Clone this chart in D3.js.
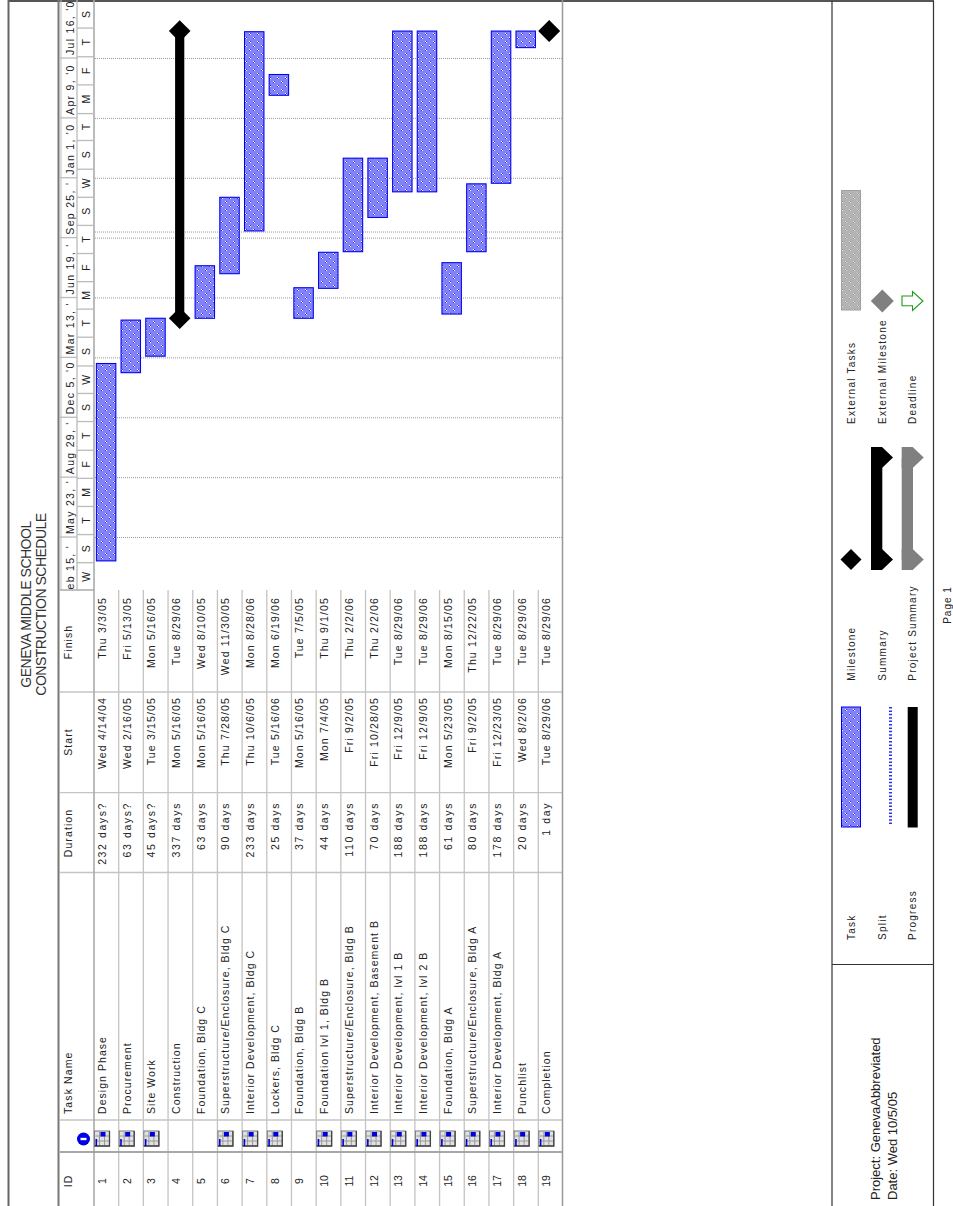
<!DOCTYPE html>
<html>
<head>
<meta charset="utf-8">
<script src="https://cdn.jsdelivr.net/npm/d3@7"></script>
<style>
  html, body { margin: 0; padding: 0; background: #fff; overflow: hidden; }
  svg { display: block; }
  text { font-family: "Liberation Sans", Arial, sans-serif; fill: #222; }
</style>
</head>
<body>
<script>
// task table
const ids = [1,2,3,4,5,6,7,8,9,10,11,12,13,14,15,16,17,18,19]
const names = ["Design Phase","Procurement","Site Work","Construction","Foundation, Bldg C",
  "Superstructure/Enclosure, Bldg C","Interior Development, Bldg C","Lockers, Bldg C","Foundation, Bldg B",
  "Foundation lvl 1, Bldg B","Superstructure/Enclosure, Bldg B","Interior Development, Basement B",
  "Interior Development, lvl 1 B","Interior Development, lvl 2 B","Foundation, Bldg A",
  "Superstructure/Enclosure, Bldg A","Interior Development, Bldg A","Punchlist","Completion"]
const durations = ["232 days?","63 days?","45 days?","337 days","63 days","90 days","233 days","25 days","37 days",
  "44 days","110 days","70 days","188 days","188 days","61 days","80 days","178 days","20 days","1 day"]
const starts = ["Wed 4/14/04","Wed 2/16/05","Tue 3/15/05","Mon 5/16/05","Mon 5/16/05","Thu 7/28/05","Thu 10/6/05",
  "Tue 5/16/06","Mon 5/16/05","Mon 7/4/05","Fri 9/2/05","Fri 10/28/05","Fri 12/9/05","Fri 12/9/05","Mon 5/23/05",
  "Fri 9/2/05","Fri 12/23/05","Wed 8/2/06","Tue 8/29/06"]
const finishes = ["Thu 3/3/05","Fri 5/13/05","Mon 5/16/05","Tue 8/29/06","Wed 8/10/05","Wed 11/30/05","Mon 8/28/06",
  "Mon 6/19/06","Tue 7/5/05","Thu 9/1/05","Thu 2/2/06","Thu 2/2/06","Tue 8/29/06","Tue 8/29/06","Mon 8/15/05",
  "Thu 12/22/05","Tue 8/29/06","Tue 8/29/06","Tue 8/29/06"]
const kinds = ["task","task","task","summary","task","task","task","task","task","task","task","task","task","task",
  "task","task","task","task","milestone"]
const hasIcon = [1,1,1,0,0,1,1,1,0,1,1,1,1,1,1,1,1,1,1]

// timescale header
const majorDates = ["2/15/04","5/23/04","8/29/04","12/5/04","3/13/05","6/19/05","9/25/05","1/1/06","4/9/06","7/16/06"]
const majorLabels = ["eb 15, '","May 23, '","Aug 29, '","Dec 5, '0","Mar 13, '","Jun 19, '","Sep 25, '","Jan 1, '0","Apr 9, '0","Jul 16, '0"]
const minorDays = [10,56,102,148,194,240,287,333,378,425,471,516,562,608,654,700,747,791,838,884,931,975] // days after 2/15/04
const minorLabels = ["W","S","T","M","F","T","S","W","S","T","M","F","T","S","W","S","T","M","F","T","S"]
const statusDate = "10/5/05"

const W = 953, H = 1206
const tableTop = 60, tierMid = 77, headBottom = 94, tableBottom = 563, ganttEdge = 590

let svg = d3.select("body").append("svg").attr("width", W).attr("height", H)
let defs = svg.append("defs")

function dither(id, base, light, dark) {
  let p = defs.append("pattern").attr("id", id).attr("patternUnits", "userSpaceOnUse")
    .attr("width", 8).attr("height", 8)
  p.append("rect").attr("width", 8).attr("height", 8).attr("fill", base)
  ;[[1,1,light],[2,2,light],[1,2,dark],[2,1,dark],[5,5,light],[6,6,light],[5,6,dark],[6,5,dark]].forEach(c => {
    p.append("rect").attr("x", c[0]).attr("y", c[1]).attr("width", 1).attr("height", 1).attr("fill", c[2])
  })
}
dither("taskFill", "#8282f4", "#ffffff", "#2a2aee")
dither("extFill", "#b4b4b4", "#e6e6e6", "#909090")

const parseFull = d3.utcParse("%a %m/%d/%y")
const parseDay = d3.utcParse("%m/%d/%y")
const origin = parseDay(majorDates[0])

let y = d3.scaleUtc().domain([origin, parseDay(majorDates[9])]).range([596.9, 58])
let row = d3.scaleBand().domain(ids).range([headBottom, tableBottom])
const dayY = n => y(d3.utcDay.offset(origin, n))

function rot(sel, x, yy, anchor, size, spacing) {
  return sel.attr("transform", "translate(" + x + "," + yy + ") rotate(-90)")
    .attr("text-anchor", anchor)
    .attr("font-size", size)
    .attr("letter-spacing", spacing)
}
function line(g, x1, y1, x2, y2, color, w) {
  return g.append("line").attr("x1", x1).attr("y1", y1).attr("x2", x2).attr("y2", y2)
    .attr("stroke", color).attr("stroke-width", w)
}
function diamond(g, cx, cy, r, color) {
  g.append("path").attr("d", d3.line()([[cx-r,cy],[cx,cy-r],[cx+r,cy],[cx,cy+r]]) + "Z").attr("fill", color)
}

// page frame
let frame = svg.append("g")
line(frame, 8, 1, 934, 1, "#555", 2)
line(frame, 8.5, 0, 8.5, H, "#666", 2)
line(frame, 832, 1, 832, H, "#333", 1.2)
line(frame, 933.5, 1, 933.5, H, "#333", 1.2)
line(frame, 832, 964.5, 933.5, 964.5, "#333", 1.2)

// title
let titles = ["GENEVA MIDDLE SCHOOL", "CONSTRUCTION SCHEDULE"]
svg.selectAll(".title").data(titles).join("text").attr("class", "title")
  .text(d => d)
  .each(function(d, i) { rot(d3.select(this), 31 + i*15, 604.5, "middle", 14, -0.5) })
  .style("fill", "#333")

// gantt grid lines
let grid = svg.append("g").attr("stroke", "#999").attr("stroke-dasharray", "1 1").attr("stroke-width", 1)
grid.selectAll("line").data(majorDates.slice(1).concat([statusDate])).join("line")
  .attr("x1", headBottom + 1).attr("x2", tableBottom)
  .attr("y1", d => y(parseDay(d)) + 0.5).attr("y2", d => y(parseDay(d)) + 0.5)

// table columns, lines
const colEdges = [H + 5, 1152, 1120, 872.5, 792.7, 692, ganttEdge]
let table = svg.append("g")
ids.forEach(id => { if (id > 1) line(table, row(id), ganttEdge, row(id), H, "#c4c4c4", 1.3) })
colEdges.slice(1, 6).forEach(e => line(table, tableTop, e, tableBottom, e, "#c4c4c4", 1.3))
line(table, 58.5, 0, 58.5, H, "#777", 2)
line(table, 61, 0, 61, ganttEdge, "#bbb", 1)
line(table, headBottom, 0, headBottom, H, "#aaa", 1.6)
line(table, tableBottom - 0.5, 0, tableBottom - 0.5, H, "#999", 1.5)
line(table, tierMid, 0, tierMid, ganttEdge, "#bbb", 1.3)
line(table, 60, ganttEdge, headBottom, ganttEdge, "#aaa", 1.6)
line(table, 60, 1152, tableBottom, 1152, "#999", 1.3)

// timescale ticks and labels
let scaleHead = svg.append("g")
majorDates.slice(1).forEach(d => line(scaleHead, tableTop, y(parseDay(d)), tierMid, y(parseDay(d)), "#bbb", 1.3))
minorDays.slice(1, -1).forEach(n => line(scaleHead, tierMid, dayY(n), headBottom, dayY(n), "#bbb", 1.3))
scaleHead.selectAll(".major").data(majorLabels).join("text").attr("class", "major")
  .text(d => d)
  .each(function(d, i) {
    rot(d3.select(this), 73.5, Math.min(y(parseDay(majorDates[i])) - 3, 589.5), "start", 10.5, 1.3)
  })
scaleHead.selectAll(".minor").data(minorLabels).join("text").attr("class", "minor")
  .text(d => d)
  .each(function(d, i) {
    rot(d3.select(this), 90, (dayY(minorDays[i]) + dayY(minorDays[i+1])) / 2, "middle", 10.5, 0)
  })

// column headers
let headers = [["ID", 1181, "middle"], ["Task Name", 1114, "start"], ["Duration", 833, "middle"],
  ["Start", 742, "middle"], ["Finish", 642, "middle"]]
svg.selectAll(".head").data(headers).join("text").attr("class", "head")
  .text(d => d[0])
  .each(function(d) { rot(d3.select(this), 72, d[1], d[2], 10.5, 1.1) })

// info icon in the header
let info = svg.append("g").attr("transform", "translate(83.5,1139)")
info.append("circle").attr("r", 6.5).attr("fill", "#0000e6")
info.append("rect").attr("x", -3).attr("y", -1.2).attr("width", 6).attr("height", 2.4).attr("fill", "#fff")

// table body
const rowText = (data, cls, yy, anchor, spacing) => {
  svg.selectAll("." + cls).data(data).join("text").attr("class", cls)
    .text(d => d)
    .each(function(d, i) { rot(d3.select(this), row(ids[i]) + 12, yy, anchor, 10.5, spacing) })
}
rowText(ids, "cId", 1181, "middle", 0)
rowText(names, "cName", 1114, "start", 1.05)
rowText(durations, "cDur", 802, "end", 1.6)
rowText(starts, "cStart", 697, "end", 1.15)
rowText(finishes, "cFin", 597, "end", 1.15)

// indicator icons
let icons = svg.selectAll(".icon").data(ids.filter((d, i) => hasIcon[i])).join("g").attr("class", "icon")
  .attr("transform", d => "translate(" + (row(d) + 0.5) + ",1131)")
icons.append("rect").attr("width", 15).attr("height", 15).attr("fill", "#e2e2e2").attr("stroke", "#777").attr("stroke-width", 1)
icons.append("path").attr("d", "M5 1V15M10 1V15M1 5H15M1 10H15").attr("stroke", "#999").attr("stroke-width", 1).attr("fill", "none")
icons.append("path").attr("d", "M15 0V15H0").attr("stroke", "#444").attr("stroke-width", 1.3).attr("fill", "none")
icons.append("rect").attr("x", 6).attr("y", 1).attr("width", 5).attr("height", 4.5).attr("fill", "#0000d8")
icons.append("rect").attr("x", 1).attr("y", 8).attr("width", 1.6).attr("height", 7).attr("fill", "#0000d8")

// bars
let tasks = ids.map((id, i) => ({ id: id, kind: kinds[i], s: parseFull(starts[i]), f: parseFull(finishes[i]) }))
let bars = svg.append("g")
const barOff = 2.4, barW = 19.4
bars.selectAll(".halo").data(tasks.filter(d => d.kind == "task")).join("rect").attr("class", "halo")
  .attr("x", d => row(d.id) + barOff - 0.6).attr("width", barW + 1.2)
  .attr("y", d => y(d.f) - 0.6).attr("height", d => y(d.s) - y(d.f) + 1.2)
  .attr("fill", "#b9b9ff")
bars.selectAll(".bar").data(tasks.filter(d => d.kind == "task")).join("rect").attr("class", "bar")
  .attr("x", d => row(d.id) + barOff).attr("width", barW)
  .attr("y", d => y(d.f)).attr("height", d => y(d.s) - y(d.f))
  .attr("fill", "url(#taskFill)").attr("stroke", "#0000f0").attr("stroke-width", 1)
tasks.filter(d => d.kind == "summary").forEach(d => {
  let cx = row(d.id) + row.bandwidth() / 2 - 0.7
  bars.append("rect").attr("x", cx - 4.6).attr("width", 9.2).attr("y", y(d.f)).attr("height", y(d.s) - y(d.f)).attr("fill", "#000")
  diamond(bars, cx, y(d.s), 10.8, "#000")
  diamond(bars, cx, y(d.f), 10.8, "#000")
})
tasks.filter(d => d.kind == "milestone").forEach(d => {
  diamond(bars, row(d.id) + row.bandwidth() / 2 - 1.5, y(d.f), 11, "#000")
})

// legend
let legend = svg.append("g")
let legendNames = [["Task", 855, 940], ["Split", 886, 940], ["Progress", 916, 940],
  ["Milestone", 855, 680.7], ["Summary", 886, 680.7], ["Project Summary", 916, 680.7],
  ["External Tasks", 855, 424], ["External Milestone", 886, 424], ["Deadline", 916, 424]]
legend.selectAll("text").data(legendNames).join("text")
  .text(d => d[0])
  .each(function(d) { rot(d3.select(this), d[1], d[2], "start", 10, 1.25) })

legend.append("rect").attr("x", 841.5).attr("y", 707).attr("width", 19).attr("height", 120)
  .attr("fill", "url(#taskFill)").attr("stroke", "#0000f0")
line(legend, 890.5, 707, 890.5, 824, "#3030f0", 3).attr("stroke-dasharray", "1.5 1.9")
legend.append("rect").attr("x", 907.7).attr("y", 707).attr("width", 10).attr("height", 120.5).attr("fill", "#000")
diamond(legend, 851, 559.5, 10.5, "#000")

function summaryShape(x0, color) {
  const cap = cy => [[x0,cy-10.5],[x0+11,cy-10.5],[x0+22,cy],[x0+11,cy+10.5],[x0,cy+10.5]]
  legend.append("rect").attr("x", x0).attr("y", 458).attr("width", 11.3).attr("height", 101.5).attr("fill", color)
  ;[559.5, 457.5].forEach(cy => {
    legend.append("path").attr("d", d3.line()(cap(cy)) + "Z").attr("fill", color)
  })
}
summaryShape(871, "#000")
summaryShape(901.7, "#808080")

legend.append("rect").attr("x", 841.5).attr("y", 190.5).attr("width", 19).attr("height", 119.5)
  .attr("fill", "url(#extFill)").attr("stroke", "#a0a0a0")
diamond(legend, 882.3, 301, 11.5, "#808080")
legend.append("path")
  .attr("d", d3.line()([[902,296],[912.5,296],[912.5,291.5],[923,301],[912.5,310.5],[912.5,305.7],[902,305.7]]) + "Z")
  .attr("fill", "#fff").attr("stroke", "#1f9a1f").attr("stroke-width", 1.1)

// footer texts
let notes = [["Project: GenevaAbbreviated", 880], ["Date: Wed 10/5/05", 897]]
svg.selectAll(".note").data(notes).join("text").attr("class", "note")
  .text(d => d[0])
  .each(function(d) { rot(d3.select(this), d[1], 1200, "start", 13, 0) })
svg.append("text").text("Page 1").call(rot, 950.5, 605, "middle", 10, 1)
</script>
</body>
</html>
